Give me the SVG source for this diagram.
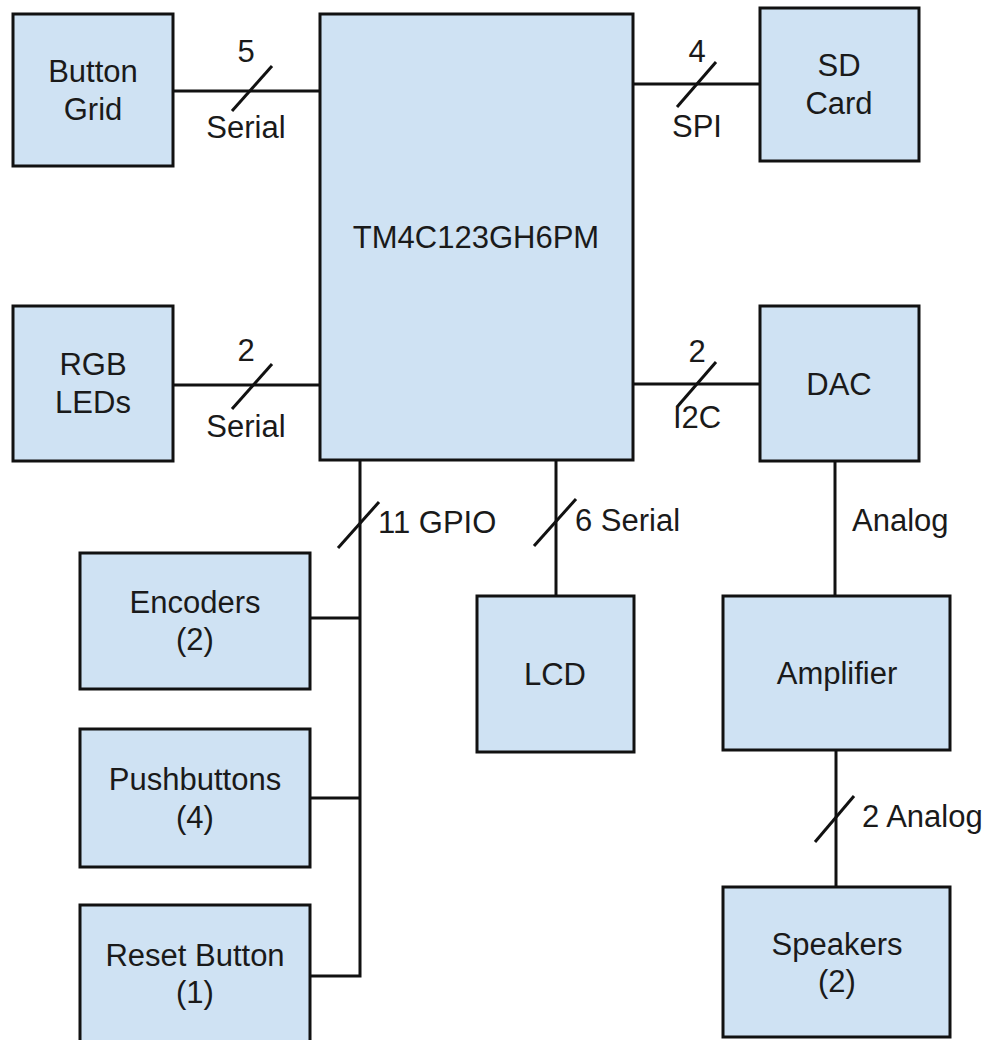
<svg xmlns="http://www.w3.org/2000/svg" width="991" height="1040" viewBox="0 0 991 1040">
<style>
.box{fill:#cfe2f3;stroke:#111;stroke-width:3}
.ln{stroke:#111;stroke-width:3;fill:none}
text{font-family:"Liberation Sans",Arial,sans-serif;font-size:31px;fill:#1a1a1a}
.c{text-anchor:middle}
</style>
<rect width="991" height="1040" fill="#fff"/>
<g id="connectors">
<line class="ln" x1="173" y1="91" x2="320" y2="91"/>
<line class="ln" x1="232" y1="111" x2="272" y2="66"/>
<text class="c" x="246" y="62">5</text>
<text class="c" x="246" y="138">Serial</text>
<line class="ln" x1="173" y1="385" x2="320" y2="385"/>
<line class="ln" x1="232" y1="409" x2="272" y2="364"/>
<text class="c" x="246" y="361">2</text>
<text class="c" x="246" y="437">Serial</text>
<line class="ln" x1="633" y1="84" x2="760" y2="84"/>
<line class="ln" x1="677" y1="107" x2="716" y2="62"/>
<text class="c" x="697" y="62">4</text>
<text class="c" x="697" y="137">SPI</text>
<line class="ln" x1="633" y1="384" x2="760" y2="384"/>
<line class="ln" x1="677" y1="407" x2="716" y2="362"/>
<text class="c" x="697" y="362">2</text>
<text class="c" x="697" y="428">I2C</text>
<polyline class="ln" points="360,460 360,976 310,976"/>
<line class="ln" x1="310" y1="618" x2="360" y2="618"/>
<line class="ln" x1="310" y1="798" x2="360" y2="798"/>
<line class="ln" x1="338" y1="548" x2="379" y2="502"/>
<text x="378" y="533">11 GPIO</text>
<line class="ln" x1="556" y1="460" x2="556" y2="596"/>
<line class="ln" x1="534" y1="546" x2="576" y2="499"/>
<text x="575" y="531">6 Serial</text>
<line class="ln" x1="835" y1="461" x2="835" y2="596"/>
<text x="852" y="531">Analog</text>
<line class="ln" x1="836" y1="750" x2="836" y2="887"/>
<line class="ln" x1="815" y1="842" x2="854" y2="796"/>
<text x="862" y="827">2 Analog</text>
</g>
<g id="mcu">
<rect class="box" x="320" y="14" width="313" height="446"/>
<text class="c" x="476" y="248">TM4C123GH6PM</text>
</g>
<g id="button-grid">
<rect class="box" x="13" y="14" width="160" height="152"/>
<text class="c" x="93" y="82">Button</text>
<text class="c" x="93" y="120">Grid</text>
</g>
<g id="rgb-leds">
<rect class="box" x="13" y="306" width="160" height="155"/>
<text class="c" x="93" y="375">RGB</text>
<text class="c" x="93" y="413">LEDs</text>
</g>
<g id="sd-card">
<rect class="box" x="760" y="8" width="159" height="153"/>
<text class="c" x="839" y="76">SD</text>
<text class="c" x="839" y="114">Card</text>
</g>
<g id="dac">
<rect class="box" x="760" y="306" width="159" height="155"/>
<text class="c" x="839" y="395">DAC</text>
</g>
<g id="encoders">
<rect class="box" x="80" y="553" width="230" height="136"/>
<text class="c" x="195" y="613">Encoders</text>
<text class="c" x="195" y="650">(2)</text>
</g>
<g id="pushbuttons">
<rect class="box" x="80" y="729" width="230" height="138"/>
<text class="c" x="195" y="790">Pushbuttons</text>
<text class="c" x="195" y="828">(4)</text>
</g>
<g id="reset-button">
<rect class="box" x="80" y="905" width="230" height="140"/>
<text class="c" x="195" y="966">Reset Button</text>
<text class="c" x="195" y="1003">(1)</text>
</g>
<g id="lcd">
<rect class="box" x="477" y="596" width="157" height="156"/>
<text class="c" x="555" y="685">LCD</text>
</g>
<g id="amplifier">
<rect class="box" x="723" y="596" width="227" height="154"/>
<text class="c" x="837" y="684">Amplifier</text>
</g>
<g id="speakers">
<rect class="box" x="723" y="887" width="227" height="150"/>
<text class="c" x="837" y="955">Speakers</text>
<text class="c" x="837" y="992">(2)</text>
</g>
</svg>
